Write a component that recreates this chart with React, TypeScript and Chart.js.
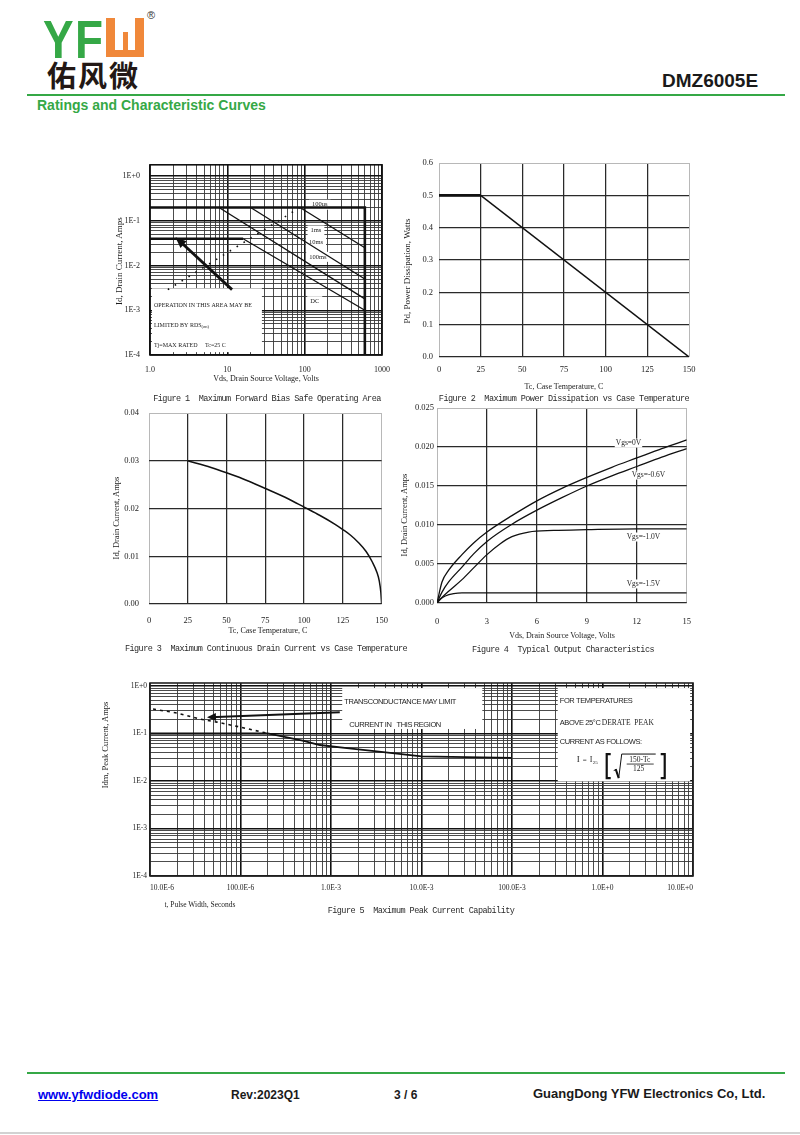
import React, { useEffect, useRef } from "react";
import { Chart, registerables } from "chart.js";

Chart.register(...registerables);

/* ======================= DATA ======================= */
// Figure 1 - Maximum Forward Bias Safe Operating Area (Vds [V], Id [A])
const f1LimitV = [1, 600, 600];
const f1LimitI = [0.2, 0.2, 0.0001];
const f1DcLevelV = [1, 16];
const f1DcLevelI = [0.04, 0.04];
const f1Pulse100usV = [87, 600];
const f1Pulse100usI = [0.2, 0.025];
const f1Pulse1msV = [20, 600];
const f1Pulse1msI = [0.2, 0.005];
const f1Pulse10msV = [7.8, 600];
const f1Pulse10msI = [0.2, 0.0018];
const f1DcSlopeV = [16, 600];
const f1DcSlopeI = [0.04, 0.001];
const f1RdsLimitV = [1.7, 87];
const f1RdsLimitI = [0.0029, 0.2];
const f1ArrowV = [11.5, 2.28];
const f1ArrowI = [0.0029, 0.039];
const f1XTickValues = [1, 10, 100, 1000];
const f1XTickLabels = ["1.0", "10", "100", "1000"];
const f1YTickValues = [1e-4, 1e-3, 1e-2, 1e-1, 1];
const f1YTickLabels = ["1E-4", "1E-3", "1E-2", "1E-1", "1E+0"];
const f1CurveLabels = ["100us", "1ms", "10ms", "100ms", "DC"];

// Figure 2 - Maximum Power Dissipation vs Case Temperature
const f2Temp = [0, 25, 150];
const f2Power = [0.5, 0.5, 0];
const f2XTickValues = [0, 25, 50, 75, 100, 125, 150];
const f2XTickLabels = ["0", "25", "50", "75", "100", "125", "150"];
const f2YTickValues = [0, 0.1, 0.2, 0.3, 0.4, 0.5, 0.6];
const f2YTickLabels = ["0.0", "0.1", "0.2", "0.3", "0.4", "0.5", "0.6"];

// Figure 3 - Maximum Continuous Drain Current vs Case Temperature
const f3Temp = [25, 40, 50, 60, 75, 90, 100, 110, 120, 125, 130, 135, 140, 144, 147, 148.5, 149.5, 150];
const f3Current = [0.03, 0.0286, 0.0275, 0.0263, 0.0242, 0.022, 0.0203, 0.0186, 0.0167, 0.0156, 0.0144, 0.0129, 0.011, 0.0088, 0.0066, 0.0048, 0.0024, 0];
const f3XTickValues = [0, 25, 50, 75, 100, 125, 150];
const f3XTickLabels = ["0", "25", "50", "75", "100", "125", "150"];
const f3YTickValues = [0, 0.01, 0.02, 0.03, 0.04];
const f3YTickLabels = ["0.00", "0.01", "0.02", "0.03", "0.04"];

// Figure 4 - Typical Output Characteristics (Vds [V], Id [A])
const f4VdsA = [0, 0.3, 0.7, 1.5, 2.2, 3, 4.5, 6, 7.5, 9, 10.5, 12, 13.5, 15];
const f4IdVgs0 = [0, 0.0027, 0.0042, 0.0062, 0.0077, 0.0091, 0.0112, 0.0131, 0.0147, 0.0161, 0.0174, 0.0186, 0.0198, 0.0209];
const f4IdVgs06 = [0, 0.0014, 0.0027, 0.0046, 0.0063, 0.0079, 0.0101, 0.0119, 0.0135, 0.015, 0.0163, 0.0175, 0.0187, 0.0198];
const f4VdsB = [0, 0.3, 0.7, 1.5, 2.2, 3, 3.8, 4.5, 5.5, 7, 9, 12, 15];
const f4IdVgs10 = [0, 0.0007, 0.0015, 0.003, 0.0045, 0.0062, 0.0076, 0.0085, 0.0091, 0.0093, 0.0094, 0.0095, 0.0095];
const f4VdsC = [0, 0.2, 0.5, 1, 1.5, 3, 15];
const f4IdVgs15 = [0, 0.0005, 0.0009, 0.0012, 0.0013, 0.0013, 0.0013];
const f4SeriesNames = ["Vgs=0V", "Vgs=-0.6V", "Vgs=-1.0V", "Vgs=-1.5V"];
const f4XTickValues = [0, 3, 6, 9, 12, 15];
const f4XTickLabels = ["0", "3", "6", "9", "12", "15"];
const f4YTickValues = [0, 0.005, 0.01, 0.015, 0.02, 0.025];
const f4YTickLabels = ["0.000", "0.005", "0.010", "0.015", "0.020", "0.025"];

// Figure 5 - Maximum Peak Current Capability (t [s], Idm [A])
const f5SolidT = [1e-5, 2e-4, 5e-4, 7.5e-4, 1.5e-3, 3.2e-3, 1e-2, 0.1];
const f5SolidI = [0.1, 0.1, 0.07, 0.057, 0.049, 0.042, 0.033, 0.0305];
const f5DashT = [1.08e-5, 2e-5, 3.6e-5, 5.5e-5, 9.9e-5, 2e-4];
const f5DashI = [0.326, 0.268, 0.2, 0.173, 0.136, 0.1];
const f5ArrowT = [1.25e-3, 4.6e-5];
const f5ArrowI = [0.28, 0.22];
const f5XTickValues = [1e-5, 1e-4, 1e-3, 1e-2, 1e-1, 1, 10];
const f5XTickLabels = ["10.0E-6", "100.0E-6", "1.0E-3", "10.0E-3", "100.0E-3", "1.0E+0", "10.0E+0"];
const f5YTickValues = [1e-4, 1e-3, 1e-2, 1e-1, 1];
const f5YTickLabels = ["1E-4", "1E-3", "1E-2", "1E-1", "1E+0"];

/* =================== annotation layout =================== */
const F1_NOTE = {
  boxV: [1.06, 28],
  boxI: [1.16e-4, 0.0031],
  labelV: [157, 140, 140, 148, 135],
  labelI: [0.23, 0.061, 0.033, 0.0157, 0.0016],
};
const F4_NOTE = { x: [11.5, 12.7, 12.4, 12.4], y: [0.0205, 0.0164, 0.00846, 0.00244] };
const F5_NOTE = {
  box1T: [1.33e-3, 0.047],
  box1I: [0.124, 0.9],
  box2T: [0.32, 9.3],
  box2I: [0.0098, 0.9],
};

/* ======================= geometry ======================= */
type Geo = { x: number; y: number; w: number; h: number; L: number; T: number; R: number; B: number };
const G1: Geo = { x: 100, y: 150, w: 300, h: 232, L: 150, T: 162, R: 385, B: 355 };
const G2: Geo = { x: 400, y: 150, w: 305, h: 232, L: 439, T: 163, R: 689, B: 357 };
const G3: Geo = { x: 100, y: 398, w: 300, h: 236, L: 149, T: 408, R: 385, B: 604 };
const G4: Geo = { x: 400, y: 398, w: 305, h: 236, L: 437, T: 408, R: 692, B: 603 };
const G5: Geo = { x: 95, y: 675, w: 615, h: 226, L: 150, T: 683, R: 693, B: 876 };

const SERIF = "'Liberation Serif', 'Times New Roman', serif";
const SANS = "'Liberation Sans', Arial, sans-serif";
const MONO = "'Liberation Mono', 'DejaVu Sans Mono', monospace";
const INK = "#1c1c1c";

/* ======================= helpers ======================= */
const pts = (xs: number[], ys: number[]) => xs.map((x, i) => ({ x, y: ys[i] }));
const near = (a: number, b: number) => Math.abs(a - b) <= Math.abs(b) * 1e-6 + 1e-12;
const isDecade = (v: number) => {
  const l = Math.log10(v);
  return Math.abs(l - Math.round(l)) < 1e-6;
};
function logLadder(lo: number, hi: number): number[] {
  const out: number[] = [];
  for (let e = lo; e < hi; e++) for (let m = 1; m < 10; m++) out.push(parseFloat((m * Math.pow(10, e)).toPrecision(6)));
  out.push(parseFloat(Math.pow(10, hi).toPrecision(6)));
  return out;
}
const labelFrom = (values: number[], labels: string[]) => (v: number) => {
  const i = values.findIndex((d) => near(v, d));
  return i >= 0 ? labels[i] : "";
};

function logAxis(min: number, max: number, ladder: number[], label: (v: number) => string, size: number, pad: number, align = "center") {
  return {
    type: "logarithmic",
    min,
    max,
    bounds: "data",
    afterBuildTicks: (s: any) => {
      s.ticks = ladder.map((v) => ({ value: v }));
    },
    ticks: {
      autoSkip: false,
      maxRotation: 0,
      minRotation: 0,
      padding: pad,
      align,
      color: INK,
      font: { family: SERIF, size },
      callback: (v: any) => label(Number(v)),
    },
    grid: {
      drawTicks: false,
      color: (c: any) => (c.tick && isDecade(c.tick.value) ? "#111" : "#383838"),
      lineWidth: (c: any) => (c.tick && isDecade(c.tick.value) ? 1.6 : 0.9),
    },
    border: { display: false },
  };
}

function linAxis(min: number, max: number, values: number[], labels: string[], size: number, pad: number, dark: (i: number, n: number) => boolean) {
  const lab = labelFrom(values, labels);
  return {
    type: "linear",
    min,
    max,
    bounds: "data",
    afterBuildTicks: (s: any) => {
      s.ticks = values.map((v) => ({ value: v }));
    },
    ticks: {
      autoSkip: false,
      maxRotation: 0,
      minRotation: 0,
      padding: pad,
      color: INK,
      font: { family: SERIF, size },
      callback: (v: any) => lab(Number(v)),
    },
    grid: {
      drawTicks: false,
      color: (c: any) => (dark(c.index, values.length) ? "#2a2a2a" : "#b8b8b8"),
      lineWidth: (c: any) => (dark(c.index, values.length) ? 1.25 : 1),
    },
    border: { display: false },
  };
}

function baseOptions(geo: Geo, xs: any, ys: any) {
  const L = geo.L - geo.x;
  const T = geo.T - geo.y;
  const padRight = geo.x + geo.w - geo.R;
  const xH = geo.y + geo.h - geo.B;
  return {
    responsive: false,
    maintainAspectRatio: false,
    animation: false,
    events: [],
    devicePixelRatio: 1,
    layout: { padding: { left: 0, top: T, right: padRight, bottom: 0 } },
    plugins: { legend: { display: false }, tooltip: { enabled: false }, title: { display: false } },
    scales: {
      x: { ...xs, afterFit: (s: any) => { s.height = xH; } },
      y: { ...ys, afterFit: (s: any) => { s.width = L; } },
    },
  };
}

function ds(xs: number[], ys: number[], extra: any = {}) {
  return {
    data: pts(xs, ys),
    borderColor: "#111",
    borderWidth: 1.4,
    pointRadius: 0,
    fill: false,
    tension: 0,
    ...extra,
  };
}

const P = (chart: any, x: number, y: number) => [chart.scales.x.getPixelForValue(x), chart.scales.y.getPixelForValue(y)];

function arrowHead(ctx: any, fx: number, fy: number, tx: number, ty: number, len: number, half: number) {
  const a = Math.atan2(ty - fy, tx - fx);
  const ex = tx + 3 * Math.cos(a);
  const ey = ty + 3 * Math.sin(a);
  const bx = ex - len * Math.cos(a);
  const by = ey - len * Math.sin(a);
  ctx.beginPath();
  ctx.moveTo(ex, ey);
  ctx.lineTo(bx + half * Math.sin(a), by - half * Math.cos(a));
  ctx.lineTo(bx - half * Math.sin(a), by + half * Math.cos(a));
  ctx.closePath();
  ctx.fill();
}

function frame(chart: any, color: string, width: number) {
  const { ctx, chartArea: a } = chart;
  ctx.save();
  ctx.strokeStyle = color;
  ctx.lineWidth = width;
  ctx.strokeRect(a.left, a.top, a.right - a.left, a.bottom - a.top);
  ctx.restore();
}

function whiteBox(chart: any, xs: number[], ys: number[]) {
  const [x1, y2] = P(chart, xs[0], ys[1]);
  const [x2, y1] = P(chart, xs[1], ys[0]);
  chart.ctx.fillStyle = "#fff";
  chart.ctx.fillRect(x1, y2, x2 - x1, y1 - y2);
  return { left: x1, top: y2, right: x2, bottom: y1 };
}

/* ======================= plugins ======================= */
const fig1Deco = {
  id: "fig1Deco",
  beforeDatasetsDraw(chart: any) {
    const ctx = chart.ctx;
    ctx.save();
    const b = whiteBox(chart, F1_NOTE.boxV, F1_NOTE.boxI);
    ctx.fillStyle = INK;
    ctx.textBaseline = "middle";
    ctx.textAlign = "left";
    ctx.font = `6px ${SERIF}`;
    ctx.fillText("OPERATION IN THIS AREA MAY BE", b.left + 2, b.top + 17);
    ctx.fillText("LIMITED BY RDS", b.left + 2, b.top + 37);
    const w = ctx.measureText("LIMITED BY RDS").width;
    ctx.font = `4.5px ${SERIF}`;
    ctx.fillText("(on)", b.left + 2 + w, b.top + 38.5);
    ctx.font = `6px ${SERIF}`;
    ctx.fillText("Tj=MAX RATED     Tc=25 C", b.left + 2, b.top + 57);

    ctx.font = `6.5px ${SERIF}`;
    ctx.textAlign = "center";
    f1CurveLabels.forEach((name, i) => {
      const [x, y] = P(chart, F1_NOTE.labelV[i], F1_NOTE.labelI[i]);
      const tw = ctx.measureText(name).width;
      ctx.fillStyle = "#fff";
      ctx.fillRect(x - tw / 2 - 3, y - 5, tw + 6, 10);
      ctx.fillStyle = INK;
      ctx.fillText(name, x, y);
    });
    ctx.restore();
  },
  afterDatasetsDraw(chart: any) {
    const ctx = chart.ctx;
    const [fx, fy] = P(chart, f1ArrowV[0], f1ArrowI[0]);
    const [tx, ty] = P(chart, f1ArrowV[1], f1ArrowI[1]);
    ctx.save();
    ctx.fillStyle = "#111";
    arrowHead(ctx, fx, fy, tx, ty, 11, 4.5);
    ctx.restore();
  },
  afterDraw(chart: any) {
    frame(chart, "#111", 1.6);
  },
};

const fig4Deco = {
  id: "fig4Deco",
  afterDatasetsDraw(chart: any) {
    const ctx = chart.ctx;
    ctx.save();
    ctx.font = `7.5px ${SERIF}`;
    ctx.textAlign = "center";
    ctx.textBaseline = "middle";
    f4SeriesNames.forEach((name, i) => {
      const [x, y] = P(chart, F4_NOTE.x[i], F4_NOTE.y[i]);
      const tw = ctx.measureText(name).width;
      ctx.fillStyle = "#fff";
      ctx.fillRect(x - tw / 2 - 1, y - 4.5, tw + 2, 9);
      ctx.fillStyle = INK;
      ctx.fillText(name, x, y);
    });
    ctx.restore();
  },
};

const fig5Deco = {
  id: "fig5Deco",
  beforeDatasetsDraw(chart: any) {
    const ctx = chart.ctx;
    ctx.save();
    const b1 = whiteBox(chart, F5_NOTE.box1T, F5_NOTE.box1I);
    const b2 = whiteBox(chart, F5_NOTE.box2T, F5_NOTE.box2I);
    ctx.fillStyle = INK;
    ctx.textBaseline = "middle";
    ctx.textAlign = "left";
    try {
      ctx.letterSpacing = "-0.4px";
    } catch (e) {}
    ctx.font = `7.5px ${SANS}`;
    ctx.fillText("TRANSCONDUCTANCE MAY LIMIT", b1.left + 2, b1.top + 14);
    ctx.fillText("CURRENT IN   THIS REGION", b1.left + 7, b1.top + 37);

    ctx.fillText("FOR TEMPERATURES", b2.left + 2, b2.top + 13);
    ctx.fillText("ABOVE 25\u00b0C", b2.left + 2, b2.top + 35);
    ctx.fillText("CURRENT AS FOLLOWS:", b2.left + 2, b2.top + 54);
    try {
      ctx.letterSpacing = "0px";
    } catch (e) {}
    ctx.font = `7.5px ${SERIF}`;
    ctx.fillText("DERATE  PEAK", b2.left + 44, b2.top + 35);

    // formula  I = I25 [ sqrt((150-Tc)/125) ]
    const ox = b2.left;
    const oy = b2.top;
    ctx.font = `9px ${SERIF}`;
    ctx.fillText("I", ox + 19, oy + 72);
    ctx.font = `7px ${SERIF}`;
    ctx.fillText("=", ox + 25, oy + 72);
    ctx.font = `8px ${SERIF}`;
    ctx.fillText("I", ox + 32, oy + 72);
    ctx.font = `5px ${SERIF}`;
    ctx.fillText("25", ox + 35, oy + 75);
    ctx.strokeStyle = "#111";
    ctx.lineWidth = 2.2;
    ctx.beginPath();
    ctx.moveTo(ox + 53, oy + 66);
    ctx.lineTo(ox + 49, oy + 66);
    ctx.lineTo(ox + 49, oy + 90);
    ctx.lineTo(ox + 53, oy + 90);
    ctx.stroke();
    ctx.beginPath();
    ctx.moveTo(ox + 103, oy + 66);
    ctx.lineTo(ox + 107, oy + 66);
    ctx.lineTo(ox + 107, oy + 90);
    ctx.lineTo(ox + 103, oy + 90);
    ctx.stroke();
    ctx.lineWidth = 1;
    ctx.beginPath();
    ctx.moveTo(ox + 56, oy + 83);
    ctx.lineTo(ox + 58, oy + 81);
    ctx.lineTo(ox + 61, oy + 90);
    ctx.lineTo(ox + 64, oy + 66);
    ctx.lineTo(ox + 98, oy + 66);
    ctx.stroke();
    ctx.lineWidth = 2;
    ctx.beginPath();
    ctx.moveTo(ox + 58, oy + 81);
    ctx.lineTo(ox + 61, oy + 90);
    ctx.stroke();
    ctx.lineWidth = 0.8;
    ctx.beginPath();
    ctx.moveTo(ox + 69, oy + 76);
    ctx.lineTo(ox + 96, oy + 76);
    ctx.stroke();
    ctx.textAlign = "center";
    ctx.font = `7.5px ${SERIF}`;
    ctx.fillText("150-Tc", ox + 82, oy + 71.5);
    ctx.fillText("125", ox + 81, oy + 81);
    ctx.restore();
  },
  afterDatasetsDraw(chart: any) {
    const ctx = chart.ctx;
    const [fx, fy] = P(chart, f5ArrowT[0], f5ArrowI[0]);
    const [tx, ty] = P(chart, f5ArrowT[1], f5ArrowI[1]);
    ctx.save();
    ctx.fillStyle = "#111";
    arrowHead(ctx, fx, fy, tx, ty, 9, 4);
    ctx.restore();
  },
  afterDraw(chart: any) {
    frame(chart, "#222", 1.6);
  },
};

/* ======================= chart builders ======================= */
const edgeLight = (i: number, n: number) => i !== 0 && i !== n - 1;
const topLight = (i: number, n: number) => i !== n - 1;

function makeFig1(c: HTMLCanvasElement) {
  const options = baseOptions(
    G1,
    logAxis(1, 1000, logLadder(0, 3), labelFrom(f1XTickValues, f1XTickLabels), 8, 10),
    logAxis(1e-4, 1.8, logLadder(-4, 0), labelFrom(f1YTickValues, f1YTickLabels), 8, 10)
  );
  return new Chart(c, {
    type: "line",
    data: {
      datasets: [
        ds(f1LimitV, f1LimitI, { borderWidth: 2.6 }),
        ds(f1DcLevelV, f1DcLevelI, { borderWidth: 2.6 }),
        ds(f1Pulse100usV, f1Pulse100usI, { borderWidth: 1.3 }),
        ds(f1Pulse1msV, f1Pulse1msI, { borderWidth: 1.3 }),
        ds(f1Pulse10msV, f1Pulse10msI, { borderWidth: 1.3 }),
        ds(f1DcSlopeV, f1DcSlopeI, { borderWidth: 1.3 }),
        ds(f1RdsLimitV, f1RdsLimitI, { borderWidth: 1.6, borderDash: [1.6, 6.5] }),
        ds(f1ArrowV, f1ArrowI, { borderWidth: 2.8 }),
      ],
    },
    options: options as any,
    plugins: [fig1Deco],
  });
}

function makeFig2(c: HTMLCanvasElement) {
  const options = baseOptions(
    G2,
    linAxis(0, 150, f2XTickValues, f2XTickLabels, 8.5, 8, edgeLight),
    linAxis(0, 0.6, f2YTickValues, f2YTickLabels, 8.5, 6, topLight)
  );
  return new Chart(c, {
    type: "line",
    data: {
      datasets: [
        ds(f2Temp, f2Power, {
          borderWidth: 1.4,
          segment: { borderWidth: (s: any) => (s.p0DataIndex === 0 ? 2.8 : 1.4) },
        }),
      ],
    },
    options: options as any,
  });
}

function makeFig3(c: HTMLCanvasElement) {
  const options = baseOptions(
    G3,
    linAxis(0, 150, f3XTickValues, f3XTickLabels, 8.5, 12, edgeLight),
    linAxis(0, 0.04, f3YTickValues, f3YTickLabels, 8.5, 10, topLight)
  );
  return new Chart(c, {
    type: "line",
    data: { datasets: [ds(f3Temp, f3Current, { borderWidth: 1.5, cubicInterpolationMode: "monotone" })] },
    options: options as any,
  });
}

function makeFig4(c: HTMLCanvasElement) {
  const options = baseOptions(
    G4,
    linAxis(0, 15, f4XTickValues, f4XTickLabels, 8.5, 14, edgeLight),
    linAxis(0, 0.025, f4YTickValues, f4YTickLabels, 8.5, 3, topLight)
  );
  const cm = { borderWidth: 1.3, cubicInterpolationMode: "monotone" };
  return new Chart(c, {
    type: "line",
    data: {
      datasets: [
        ds(f4VdsA, f4IdVgs0, cm),
        ds(f4VdsA, f4IdVgs06, cm),
        ds(f4VdsB, f4IdVgs10, cm),
        ds(f4VdsC, f4IdVgs15, cm),
      ],
    },
    options: options as any,
    plugins: [fig4Deco],
  });
}

function makeFig5(c: HTMLCanvasElement) {
  const options = baseOptions(
    G5,
    logAxis(1e-5, 10, logLadder(-5, 1), labelFrom(f5XTickValues, f5XTickLabels), 7.5, 8, "inner"),
    logAxis(1e-4, 1.15, logLadder(-4, 0), labelFrom(f5YTickValues, f5YTickLabels), 7.5, 3)
  );
  return new Chart(c, {
    type: "line",
    data: {
      datasets: [
        ds(f5SolidT, f5SolidI, { borderWidth: 1.8 }),
        ds(f5DashT, f5DashI, { borderWidth: 1.6, borderDash: [3, 4] }),
        ds(f5ArrowT, f5ArrowI, { borderWidth: 2 }),
      ],
    },
    options: options as any,
    plugins: [fig5Deco],
  });
}

/* ======================= components ======================= */
function ChartCanvas({ geo, make }: { geo: Geo; make: (c: HTMLCanvasElement) => Chart }) {
  const ref = useRef<HTMLCanvasElement>(null);
  useEffect(() => {
    const chart = make(ref.current as HTMLCanvasElement);
    return () => chart.destroy();
  }, []);
  return (
    <canvas
      ref={ref}
      width={geo.w}
      height={geo.h}
      style={{ position: "absolute", left: geo.x, top: geo.y, width: geo.w, height: geo.h }}
    />
  );
}

function Txt(props: { x: number; y: number; s: string; size: number; family?: string; rot?: boolean; weight?: number; color?: string; ls?: number }) {
  const { x, y, s, size, family = SERIF, rot = false, weight = 400, color = INK, ls = 0 } = props;
  return (
    <div
      style={{
        position: "absolute",
        left: x,
        top: y,
        transform: `translate(-50%, -50%)${rot ? " rotate(-90deg)" : ""}`,
        fontFamily: family,
        fontSize: size,
        fontWeight: weight,
        color,
        whiteSpace: "pre",
        lineHeight: 1,
        letterSpacing: ls,
      }}
    >
      {s}
    </div>
  );
}

function Abs(props: { left: number; top: number; children: any; style?: any }) {
  return (
    <div style={{ position: "absolute", left: props.left, top: props.top, whiteSpace: "pre", lineHeight: 1, ...props.style }}>
      {props.children}
    </div>
  );
}

const GREEN = "#35a846";
const ORANGE = "#f0883a";

function Header() {
  const letter = { fontFamily: SANS, fontWeight: 700, fontSize: 54, color: GREEN, transform: "scaleX(0.85)", transformOrigin: "left top" };
  return (
    <>
      <Abs left={43} top={12} style={letter}>Y</Abs>
      <Abs left={75} top={12} style={letter}>F</Abs>
      <div style={{ position: "absolute", left: 106, top: 18, width: 38, height: 39, background: ORANGE }}>
        <div style={{ position: "absolute", left: 9, top: 0, width: 20, height: 14, background: "#fff" }} />
        <div style={{ position: "absolute", left: 9, top: 0, width: 8, height: 32, background: "#fff" }} />
        <div style={{ position: "absolute", left: 22, top: 0, width: 7, height: 32, background: "#fff" }} />
      </div>
      <Abs left={147} top={10} style={{ fontFamily: SANS, fontSize: 11, color: "#333" }}>®</Abs>
      <Abs left={47} top={60} style={{ fontFamily: "'Noto Sans CJK SC', sans-serif", fontWeight: 700, fontSize: 29, color: "#231815", letterSpacing: 2 }}>
        佑风微
      </Abs>
      <Abs left={662} top={71} style={{ fontFamily: SANS, fontWeight: 700, fontSize: 19, color: "#1a1a1a" }}>DMZ6005E</Abs>
      <div style={{ position: "absolute", left: 27, top: 94, width: 758, height: 2, background: GREEN }} />
      <Abs left={37} top={98} style={{ fontFamily: SANS, fontWeight: 700, fontSize: 14, color: GREEN }}>
        Ratings and Characteristic Curves
      </Abs>
    </>
  );
}

function Footer() {
  const f = { fontFamily: SANS, fontWeight: 700, color: "#1a1a1a" };
  return (
    <>
      <div style={{ position: "absolute", left: 27, top: 1072, width: 758, height: 2, background: GREEN }} />
      <Abs left={38} top={1088} style={{ ...f, fontSize: 13, color: "#0000ee", textDecoration: "underline" }}>www.yfwdiode.com</Abs>
      <Abs left={231} top={1089} style={{ ...f, fontSize: 12 }}>Rev:2023Q1</Abs>
      <Abs left={394} top={1089} style={{ ...f, fontSize: 12 }}>3 / 6</Abs>
      <Abs left={533} top={1087} style={{ ...f, fontSize: 13 }}>GuangDong YFW Electronics Co, Ltd.</Abs>
      <div style={{ position: "absolute", left: 0, top: 1132, width: 800, height: 2, background: "#d2d2d2" }} />
    </>
  );
}

const CAP = { size: 8.5, family: MONO, ls: -0.55, color: "#2a2a2a" };

export default function App() {
  return (
    <div style={{ position: "absolute", left: 0, top: 0, width: 800, height: 1135, background: "#fff", overflow: "hidden" }}>
      <Header />

      <ChartCanvas geo={G1} make={makeFig1} />
      <ChartCanvas geo={G2} make={makeFig2} />
      <ChartCanvas geo={G3} make={makeFig3} />
      <ChartCanvas geo={G4} make={makeFig4} />
      <ChartCanvas geo={G5} make={makeFig5} />

      <Txt x={266} y={379} s="Vds, Drain Source Voltage, Volts" size={8} />
      <Txt x={119} y={261} s="Id, Drain Current, Amps" size={9} rot />
      <Txt x={267} y={399} s="Figure 1  Maximum Forward Bias Safe Operating Area" {...CAP} />

      <Txt x={564} y={387} s="Tc, Case Temperature, C" size={8} />
      <Txt x={407} y={271} s="Pd, Power Dissipation, Watts" size={9} rot />
      <Txt x={564} y={399} s="Figure 2  Maximum Power Dissipation vs Case Temperature" {...CAP} />

      <Txt x={268} y={631} s="Tc, Case Temperature, C" size={8} />
      <Txt x={116} y={518} s="Id, Drain Current, Amps" size={8.5} rot />
      <Txt x={266} y={649} s="Figure 3  Maximum Continuous Drain Current vs Case Temperature" {...CAP} />

      <Txt x={562} y={636} s="Vds, Drain Source Voltage, Volts" size={8} />
      <Txt x={404} y={515} s="Id, Drain Current, Amps" size={8.5} rot />
      <Txt x={563} y={650} s="Figure 4  Typical Output Characteristics" {...CAP} />

      <Txt x={200} y={905} s="t, Pulse Width, Seconds" size={7.5} />
      <Txt x={105} y={745} s="Idm, Peak Current, Amps" size={8.5} rot />
      <Txt x={421} y={911} s="Figure 5  Maximum Peak Current Capability" {...CAP} />

      <Footer />
    </div>
  );
}
